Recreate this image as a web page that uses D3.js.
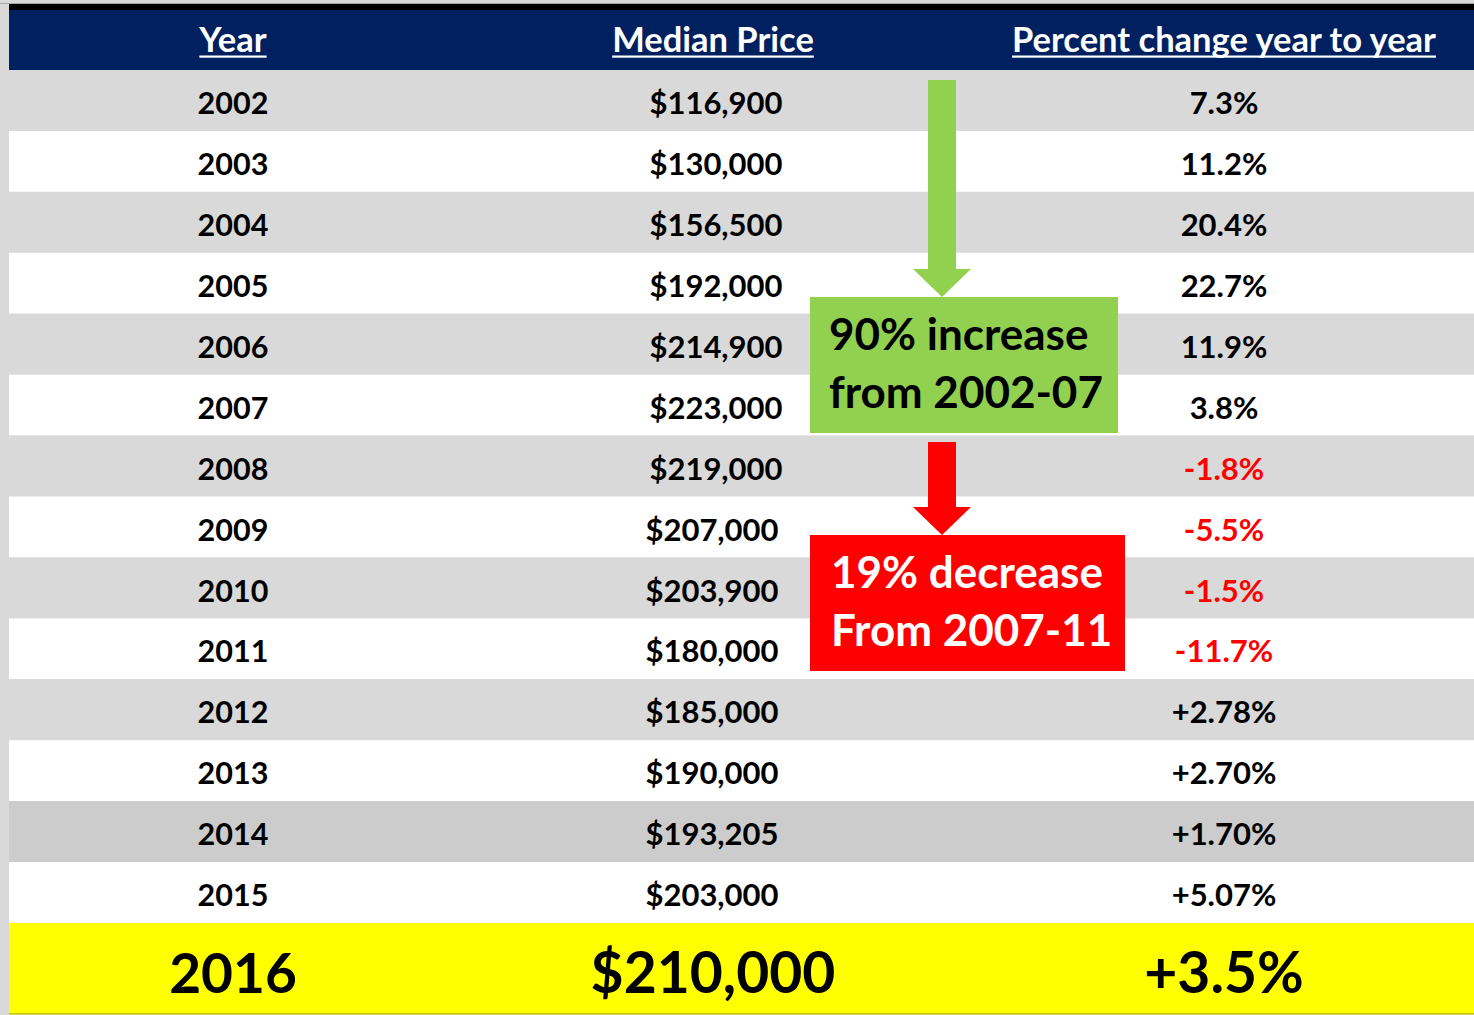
<!DOCTYPE html>
<html>
<head>
<meta charset="utf-8">
<script src="https://cdn.jsdelivr.net/npm/d3@7"></script>
<style>
  html, body { margin: 0; padding: 0; background: #d9d9d9; }
  svg { display: block; }
  text { font-family: Lato, "Open Sans", sans-serif; font-weight: bold; }
</style>
</head>
<body>
<div id="chart"></div>
<script>
// Table data
const headers = ['Year', 'Median Price', 'Percent change year to year'];
const years = ['2002', '2003', '2004', '2005', '2006', '2007', '2008', '2009', '2010', '2011', '2012', '2013', '2014', '2015'];
const prices = ['$116,900', '$130,000', '$156,500', '$192,000', '$214,900', '$223,000', '$219,000', '$207,000', '$203,900', '$180,000', '$185,000', '$190,000', '$193,205', '$203,000'];
const changes = ['7.3%', '11.2%', '20.4%', '22.7%', '11.9%', '3.8%', '-1.8%', '-5.5%', '-1.5%', '-11.7%', '+2.78%', '+2.70%', '+1.70%', '+5.07%'];
const latest = ['2016', '$210,000', '+3.5%'];
const notes = [
    { lines: ['90% increase', 'from 2002-07'] },
    { lines: ['19% decrease', 'From 2007-11'] }
];

const width = 1474, height = 1015;
const left = 9, headTop = 10, headBottom = 70, bodyBottom = 923, lastBottom = 1013;

const svg = d3.select('#chart').append('svg')
    .attr('width', width)
    .attr('height', height);

// page background and top rule
svg.append('rect').attr('width', width).attr('height', height).attr('fill', '#d9d9d9');
svg.append('rect').attr('x', 0).attr('y', 3).attr('width', width).attr('height', 1).attr('fill', '#a6a6a6');
svg.append('rect').attr('x', left).attr('y', 4).attr('width', width - left).attr('height', 6).attr('fill', '#000');

// scales
const y = d3.scaleBand().domain(years).range([headBottom, bodyBottom]);
const colX = d3.scaleOrdinal().domain([0, 1, 2]).range([233, 713, 1224]);

// header
svg.append('rect')
    .attr('x', left).attr('y', headTop)
    .attr('width', width - left).attr('height', headBottom - headTop)
    .attr('fill', '#002060');

headers.forEach((h, i) => {
    const t = svg.append('text')
        .attr('x', colX(i)).attr('y', 52)
        .attr('text-anchor', 'middle')
        .attr('fill', '#fff')
        .attr('font-size', 34.5)
        .text(h);
    const w = t.node().getComputedTextLength();
    svg.append('rect')
        .attr('x', colX(i) - w / 2).attr('y', 55.5)
        .attr('width', w).attr('height', 2.2)
        .attr('fill', '#fff');
});

// body rows
const rows = svg.selectAll('g.row')
    .data(years.map((yr, i) => ({ year: yr, price: prices[i], change: changes[i], i: i })))
    .enter().append('g')
    .attr('class', 'row')
    .attr('transform', (d) => `translate(0,${y(d.year)})`);

rows.append('rect')
    .attr('x', left)
    .attr('width', width - left)
    .attr('height', y.bandwidth())
    .attr('fill', (d) => d.year === '2014' ? '#cccccc' : (d.i % 2 === 0 ? '#d9d9d9' : '#ffffff'));

const base = y.bandwidth() * 0.74 - 1;

rows.append('text')
    .attr('x', colX(0))
    .attr('y', base)
    .attr('text-anchor', 'middle')
    .attr('font-size', 30.5)
    .attr('fill', '#000')
    .text((d) => d.year);

rows.append('text')
    .attr('x', (d) => colX(1) + (d.i < 7 ? 3 : -1))
    .attr('y', base)
    .attr('text-anchor', 'middle')
    .attr('font-size', 31)
    .attr('fill', '#000')
    .text((d) => d.price);

rows.append('text')
    .attr('x', colX(2))
    .attr('y', base)
    .attr('text-anchor', 'middle')
    .attr('font-size', 31)
    .attr('fill', (d) => d.change.startsWith('-') ? '#ff0000' : '#000')
    .text((d) => d.change);

// latest year row
svg.append('rect')
    .attr('x', left).attr('y', bodyBottom)
    .attr('width', width - left).attr('height', lastBottom - bodyBottom)
    .attr('fill', '#ffff00');
svg.append('rect')
    .attr('x', left).attr('y', lastBottom)
    .attr('width', width - left).attr('height', 1.5)
    .attr('fill', '#c9c900');

latest.forEach((v, i) => {
    svg.append('text')
        .attr('x', colX(i)).attr('y', 993)
        .attr('text-anchor', 'middle')
        .attr('font-size', i === 0 ? 55 : 57)
        .attr('fill', '#000')
        .text(v);
});

// annotations: arrows and boxes
function arrow(x, y0, tip, color) {
    const shaft = 14, head = 29, headLen = 28;
    const p = d3.path();
    p.moveTo(x - shaft, y0);
    p.lineTo(x + shaft, y0);
    p.lineTo(x + shaft, tip - headLen);
    p.lineTo(x + head, tip - headLen);
    p.lineTo(x, tip);
    p.lineTo(x - head, tip - headLen);
    p.lineTo(x - shaft, tip - headLen);
    p.closePath();
    svg.append('path').attr('d', p.toString()).attr('fill', color);
}

const ax = 942;
// green
arrow(ax, y('2002') + 10, 297, '#92d050');
svg.append('rect').attr('x', 810).attr('y', 297).attr('width', 308).attr('height', 136).attr('fill', '#92d050');
notes[0].lines.forEach((l, i) => {
    svg.append('text')
        .attr('x', 829).attr('y', 350 + i * 58)
        .attr('font-size', 44)
        .attr('fill', '#000')
        .text(l);
});

// red
arrow(ax, 442, 535, '#ff0000');
svg.append('rect').attr('x', 810).attr('y', 535).attr('width', 315).attr('height', 136).attr('fill', '#ff0000');
notes[1].lines.forEach((l, i) => {
    svg.append('text')
        .attr('x', 831).attr('y', 588 + i * 58)
        .attr('font-size', 44)
        .attr('fill', '#fff')
        .text(l);
});
</script>
</body>
</html>
